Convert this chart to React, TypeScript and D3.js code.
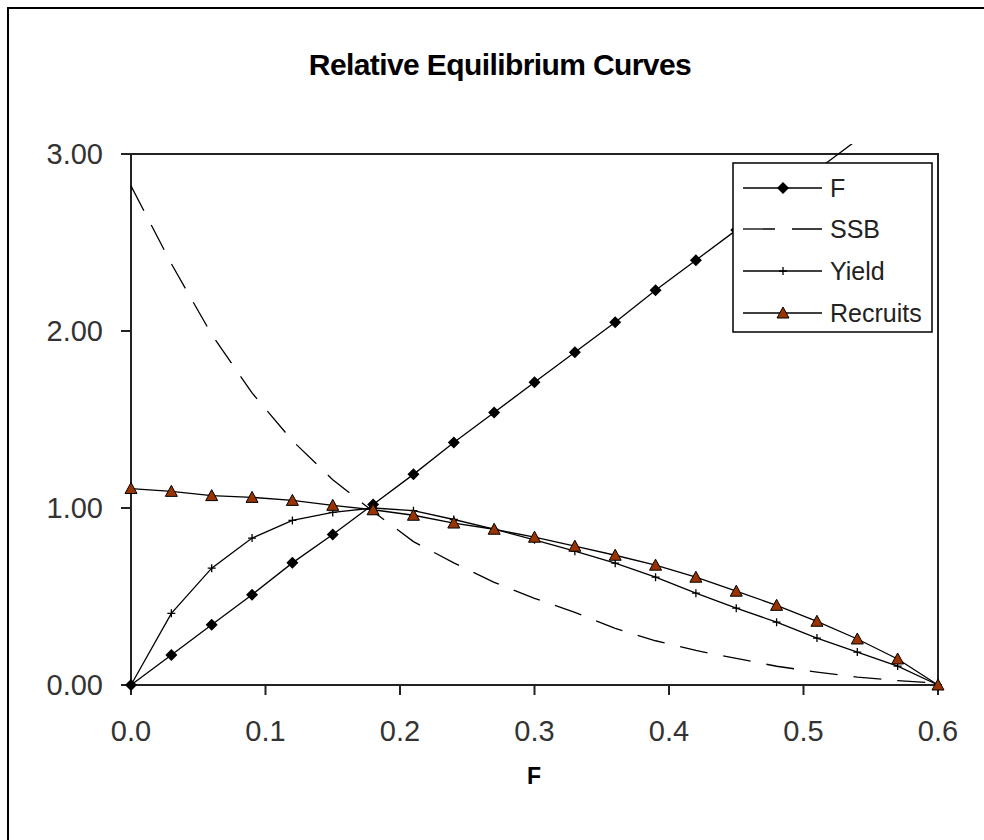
import React from "react";
import * as d3 from "d3";

const fishing = [0, 0.03, 0.06, 0.09, 0.12, 0.15, 0.18, 0.21, 0.24, 0.27, 0.3, 0.33, 0.36, 0.39, 0.42, 0.45, 0.48, 0.51, 0.54, 0.57, 0.6];
const F = [0, 0.17, 0.34, 0.51, 0.69, 0.85, 1.02, 1.19, 1.37, 1.54, 1.71, 1.88, 2.05, 2.23, 2.4, 2.57, 2.74, 2.91, 3.08, 3.25, 3.42];
const SSB = [2.82, 2.38, 1.98, 1.65, 1.38, 1.16, 0.98, 0.81, 0.69, 0.58, 0.49, 0.41, 0.32, 0.25, 0.195, 0.15, 0.106, 0.073, 0.045, 0.025, 0.01];
const Yield = [0, 0.405, 0.66, 0.83, 0.93, 0.975, 1.0, 0.985, 0.935, 0.88, 0.82, 0.756, 0.688, 0.609, 0.519, 0.434, 0.355, 0.265, 0.186, 0.107, 0];
const Recruits = [1.11, 1.094, 1.07, 1.06, 1.043, 1.015, 0.99, 0.959, 0.915, 0.88, 0.835, 0.784, 0.733, 0.677, 0.609, 0.53, 0.45, 0.36, 0.26, 0.147, 0];
const xTicks = [0, 0.1, 0.2, 0.3, 0.4, 0.5, 0.6];
const yTicks = [0, 1, 2, 3];
const legendLabels = ["F", "SSB", "Yield", "Recruits"];

const FONT = "'Liberation Sans', Arial, sans-serif";
const L = 131, R = 938, T = 154, B = 685;

const x = d3.scaleLinear().domain([0, 0.6]).range([L, R]);
const y = d3.scaleLinear().domain([0, 3]).range([B, T]);

const line = (vals: number[]) =>
  d3.line<number>().x((_, i) => x(fishing[i])).y((v) => y(v))(vals) || "";

const Diamond = ({ cx, cy }: { cx: number; cy: number }) => (
  <path d={`M${cx},${cy - 6}L${cx + 6},${cy}L${cx},${cy + 6}L${cx - 6},${cy}Z`} fill="#000" />
);
const Plus = ({ cx, cy }: { cx: number; cy: number }) => (
  <path d={`M${cx - 4},${cy}H${cx + 4}M${cx},${cy - 4}V${cy + 4}`} stroke="#000" strokeWidth={1.3} />
);
const Tri = ({ cx, cy }: { cx: number; cy: number }) => (
  <path d={`M${cx},${cy - 6}L${cx + 6},${cy + 5}L${cx - 6},${cy + 5}Z`} fill="#993300" stroke="#000" strokeWidth={1} />
);

export default function App() {
  const lx = 733, ly = 163, lw = 199, lh = 169;
  const rows = [188, 229, 271, 313];
  return (
    <svg width={984} height={840} style={{ position: "absolute", left: 0, top: 0, background: "#fff" }}>
      <rect x={8} y={8} width={1000} height={900} fill="#fff" stroke="#000" strokeWidth={2} />
      <text x={500} y={75} textAnchor="middle" fontFamily={FONT} fontWeight="bold" fontSize={30}
        fill="#000" letterSpacing={-0.6}>
        Relative Equilibrium Curves
      </text>
      <defs>
        <clipPath id="plotclip">
          <rect x={L - 8} y={144} width={R - L + 16} height={B - 144 + 8} />
        </clipPath>
      </defs>
      {/* plot frame */}
      <path d={`M${L},${T}H${R}V${B}`} fill="none" stroke="#222" strokeWidth={2} />
      <line x1={L} x2={L} y1={T} y2={B} stroke="#222" strokeWidth={2} />
      <line x1={L} x2={R} y1={B} y2={B} stroke="#222" strokeWidth={2} />
      {yTicks.map((t) => (
        <g key={"y" + t}>
          <line x1={L - 10} x2={L} y1={y(t)} y2={y(t)} stroke="#222" strokeWidth={2} />
          <text x={103} y={y(t) + 10} textAnchor="end" fontFamily={FONT} fontSize={29} fill="#333">
            {d3.format(".2f")(t)}
          </text>
        </g>
      ))}
      {xTicks.map((t) => (
        <g key={"x" + t}>
          <line x1={x(t)} x2={x(t)} y1={B} y2={B + 10} stroke="#222" strokeWidth={2} />
          <text x={x(t)} y={741} textAnchor="middle" fontFamily={FONT} fontSize={29} fill="#333">
            {d3.format(".1f")(t)}
          </text>
        </g>
      ))}
      <text x={534} y={784} textAnchor="middle" fontFamily={FONT} fontWeight="bold" fontSize={23} fill="#000">
        F
      </text>
      <g clipPath="url(#plotclip)" fill="none" stroke="#000" strokeWidth={1.3}>
        <path d={line(SSB)} strokeDasharray="28,16" />
        <path d={line(Recruits)} />
        <path d={line(Yield)} />
        <path d={line(F)} />
      </g>
      {Yield.map((v, i) => (
        <Plus key={"p" + i} cx={x(fishing[i])} cy={y(v)} />
      ))}
      {F.map((v, i) => (v <= 3 ? <Diamond key={"d" + i} cx={x(fishing[i])} cy={y(v)} /> : null))}
      {Recruits.map((v, i) => (
        <Tri key={"t" + i} cx={x(fishing[i])} cy={y(v)} />
      ))}
      {/* legend */}
      <rect x={lx} y={ly} width={lw} height={lh} fill="#fff" stroke="#000" strokeWidth={1.5} />
      {legendLabels.map((lab, i) => (
        <g key={lab}>
          <line x1={743} x2={822} y1={rows[i]} y2={rows[i]} stroke="#000" strokeWidth={1.3}
            strokeDasharray={lab === "SSB" ? "32,17" : undefined} />
          {lab === "F" && <Diamond cx={783} cy={rows[i]} />}
          {lab === "Yield" && <Plus cx={783} cy={rows[i]} />}
          {lab === "Recruits" && <Tri cx={783} cy={rows[i]} />}
          <text x={830} y={rows[i] + 9} fontFamily={FONT} fontSize={25} fill="#222">
            {lab}
          </text>
        </g>
      ))}
    </svg>
  );
}
